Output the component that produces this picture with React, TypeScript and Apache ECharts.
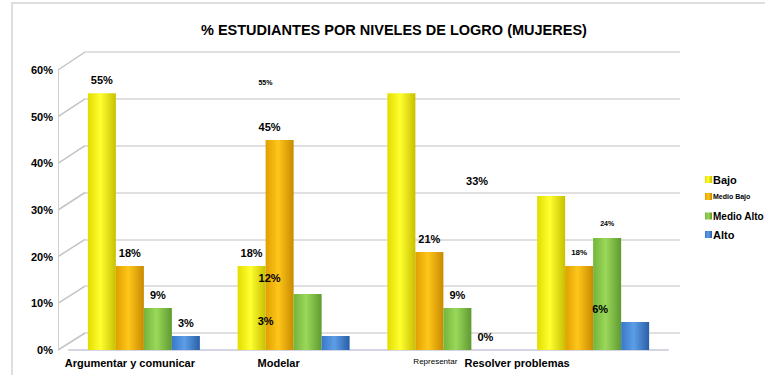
import React, { useEffect, useRef } from "react";
import * as echarts from "echarts";

const categories = ["Argumentar y comunicar", "Modelar", "Representar", "Resolver problemas"];
const seriesNames = ["Bajo", "Medio Bajo", "Medio Alto", "Alto"];
const bajo = [55, 18, 55, 33];
const medioBajo = [18, 45, 21, 18];
const medioAlto = [9, 12, 9, 24];
const alto = [3, 3, 0, 6];
const yTicks = [0, 10, 20, 30, 40, 50, 60];
const yMin = 0;
const yMax = 60;
const yStep = 10;

const FONT = "'Liberation Sans', Arial, sans-serif";

// layout of the front (bars) plot and the back wall
const FRONT = { left: 69, right: 97, top: 70, bottom: 25 };
const BACK = { left: 85, right: 85, top: 52, bottom: 42 };
const H = 375;

function cyl(l: string, m: string, r: string) {
  return new echarts.graphic.LinearGradient(0, 0, 1, 0, [
    { offset: 0, color: l },
    { offset: 0.45, color: m },
    { offset: 1, color: r },
  ]);
}

export default function App() {
  const ref = useRef<HTMLDivElement>(null);
  useEffect(() => {
    if (!ref.current) return;
    const chart = echarts.init(ref.current, null, { renderer: "svg" });
    const values = [bajo, medioBajo, medioAlto, alto];
    const colors = [
      cyl("#e2dc00", "#ffff30", "#c8c000"),
      cyl("#e0a000", "#ffc61a", "#c88a00"),
      cyl("#74b43c", "#9ad85a", "#5e9a30"),
      cyl("#3a78c8", "#5c9ee6", "#2a5ea8"),
    ];
    // per-label display tweaks (series index -> data index -> style)
    const tweaks: Record<number, Record<number, any>> = {
      0: { 2: { offset: [-136, 1], fontSize: 7 }, 3: { offset: [-74, -2] } },
      1: { 1: { offset: [-10, 0] }, 3: { fontSize: 8, offset: [0, -2] } },
      2: { 1: { offset: [-38, -3] }, 3: { fontSize: 7, offset: [0, -3] } },
      3: { 1: { offset: [-70, -2] }, 3: { offset: [-35, 0] } },
    };
    const series: any[] = seriesNames.map((name, si) => ({
      name,
      type: "bar",
      xAxisIndex: 0,
      yAxisIndex: 0,
      barWidth: 28,
      barGap: "0%",
      itemStyle: { color: colors[si] },
      label: {
        show: true,
        position: "top",
        distance: 8,
        formatter: "{c}%",
        color: "#000",
        fontWeight: "bold",
        fontSize: 11,
        fontFamily: FONT,
      },
      data: values[si].map((v, di) => {
        const t = tweaks[si] && tweaks[si][di];
        return t ? { value: v, label: { ...t } } : v;
      }),
    }));

    const legendTops = [169, 188, 206, 224];
    const legendSizes = [11, 7, 10, 11];
    const legends = seriesNames.map((n, i) => ({
      data: [n],
      left: 700,
      top: legendTops[i],
      orient: "vertical",
      itemWidth: 7,
      itemHeight: 7,
      itemGap: 2,
      icon: "rect",
      textStyle: { fontSize: legendSizes[i], fontWeight: "bold", color: "#000", fontFamily: FONT, padding: [0, 0, 0, -4] },
    }));

    const labelPad = [28, 30, 16, 152];
    const rich: any = {};
    labelPad.forEach((p, i) => {
      rich["c" + i] = {
        fontSize: i === 2 ? 8 : 11,
        fontWeight: i === 2 ? "normal" : "bold",
        fontFamily: FONT,
        color: "#000",
        padding: [0, p, 0, 0],
      };
    });

    // side-wall diagonals (decoration) from the front axis to the back-wall gridlines
    const fH = H - FRONT.top - FRONT.bottom;
    const bH = H - BACK.top - BACK.bottom;
    const diag = yTicks.map((v) => ({
      type: "line",
      silent: true,
      z: 0,
      shape: {
        x1: FRONT.left - 11,
        y1: FRONT.top + fH * (1 - (v - yMin) / (yMax - yMin)),
        x2: BACK.left,
        y2: BACK.top + bH * (1 - (v - yMin) / (yMax - yMin)),
      },
      style: { stroke: "#c4c4c4", lineWidth: 1.5 },
    }));

    chart.setOption({
      animation: false,
      backgroundColor: "#fff",
      title: {
        text: "% ESTUDIANTES POR NIVELES DE LOGRO (MUJERES)",
        left: 196,
        top: 17,
        textStyle: { fontSize: 14.5, fontWeight: "bold", color: "#000", fontFamily: FONT },
      },
      legend: legends,
      graphic: {
        elements: [
          {
            type: "rect",
            shape: { x: 12, y: 3, width: 800, height: 420 },
            style: { fill: "none", stroke: "#d4d4d4", lineWidth: 1.5 },
            silent: true,
            z: -10,
          },
          ...diag,
        ],
      },
      grid: [FRONT, BACK],
      xAxis: [
        {
          type: "category",
          gridIndex: 0,
          data: categories,
          axisTick: { show: false },
          axisLine: { show: true, lineStyle: { color: "#d4d4e4", width: 2 } },
          axisLabel: {
            interval: 0,
            margin: 7,
            formatter: (v: string) => `{c${categories.indexOf(v)}|${v}}`,
            rich,
          },
        },
        { type: "value", gridIndex: 1, show: false, min: 0, max: 1 },
      ],
      yAxis: [
        {
          type: "value",
          gridIndex: 0,
          min: yMin,
          max: yMax,
          interval: yStep,
          offset: 11,
          axisLine: { show: true, lineStyle: { color: "#d0d0d0" } },
          axisTick: { show: false },
          splitLine: { show: false },
          axisLabel: {
            formatter: "{value}%",
            margin: 5,
            fontSize: 11,
            fontWeight: "bold",
            color: "#000",
            fontFamily: FONT,
          },
        },
        {
          type: "value",
          gridIndex: 1,
          min: yMin,
          max: yMax,
          interval: yStep,
          axisLine: { show: false },
          axisTick: { show: false },
          axisLabel: { show: false },
          splitLine: { show: true, lineStyle: { color: "#d6d6d6", width: 1.5 } },
        },
      ],
      series,
    });

    return () => chart.dispose();
  }, []);
  return <div ref={ref} style={{ position: "fixed", left: 0, top: 0, width: 765, height: 375 }} />;
}
